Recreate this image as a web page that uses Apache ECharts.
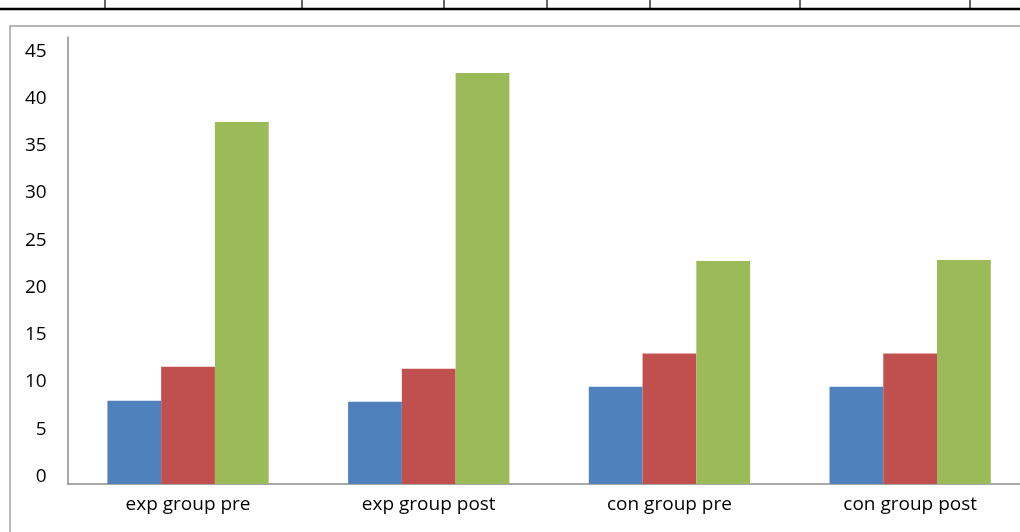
<!DOCTYPE html>
<html>
<head>
<meta charset="utf-8">
<script src="https://cdn.jsdelivr.net/npm/echarts@6/dist/echarts.min.js"></script>
<style>
  html, body { margin: 0; padding: 0; background: #fff; }
  #chart { width: 1020px; height: 532px; }
</style>
</head>
<body>
<div id="chart"></div>
<script>
// Group labels along the category axis
const categories = ['exp group pre', 'exp group post', 'con group pre', 'con group post'];

// Three measures per group (blue, red, green)
const seriesBlue  = [8.8, 8.7, 10.3, 10.3];
const seriesRed   = [12.4, 12.2, 13.8, 13.8];
const seriesGreen = [38.3, 43.5, 23.6, 23.7];

// Value axis ticks
const yTicks = [0, 5, 10, 15, 20, 25, 30, 35, 40, 45];

const chart = echarts.init(document.getElementById('chart'), null, { renderer: 'canvas' });

const FONT = '"Open Sans", Lato, sans-serif';
const AXIS_GRAY = '#8c8c8c';

// Table rule above the chart frame
const tableCols = [105, 302, 444, 547, 650, 800, 970];
const graphics = [
  { type: 'line', shape: { x1: 0, y1: 9, x2: 1020, y2: 9 }, style: { stroke: '#000', lineWidth: 2.5 }, silent: true },
  { type: 'rect', shape: { x: 10, y: 26, width: 1030, height: 540 }, style: { fill: 'none', stroke: '#a0a0a0', lineWidth: 1.5 }, silent: true }
];
tableCols.forEach(x => {
  graphics.push({ type: 'line', shape: { x1: x, y1: 0, x2: x, y2: 9 }, style: { stroke: '#000', lineWidth: 1.2 }, silent: true });
});

const bar = (name, data, color) => ({
  name, type: 'bar', data,
  itemStyle: { color },
  barGap: '0%',
  barCategoryGap: '33%',
  animation: false
});

chart.setOption({
  animation: false,
  backgroundColor: '#fff',
  graphic: graphics,
  grid: {
    left: 67.7, top: 37, right: -10.5, bottom: 48,
    containLabel: false,
    outerBoundsMode: 'none'
  },
  xAxis: {
    type: 'category',
    data: categories,
    axisLine: { lineStyle: { color: AXIS_GRAY, width: 1.5 } },
    axisTick: { show: false },
    axisLabel: { color: '#000', fontFamily: FONT, fontSize: 19, margin: 11, interval: 0 },
    splitLine: { show: false }
  },
  yAxis: {
    type: 'value',
    min: 0,
    max: 47.3,
    interval: 5,
    axisLine: { show: true, lineStyle: { color: AXIS_GRAY, width: 1.5 } },
    axisTick: { show: false },
    splitLine: { show: false },
    axisLabel: {
      color: '#000', fontFamily: FONT, fontSize: 19, margin: 21,
      showMaxLabel: false,
      verticalAlign: 'bottom',
      lineHeight: 15,
      formatter: v => (yTicks.indexOf(v) >= 0 ? String(v) : '')
    }
  },
  series: [
    bar('blue', seriesBlue, '#4F81BD'),
    bar('red', seriesRed, '#C0504D'),
    bar('green', seriesGreen, '#9BBB59')
  ]
});
</script>
</body>
</html>
